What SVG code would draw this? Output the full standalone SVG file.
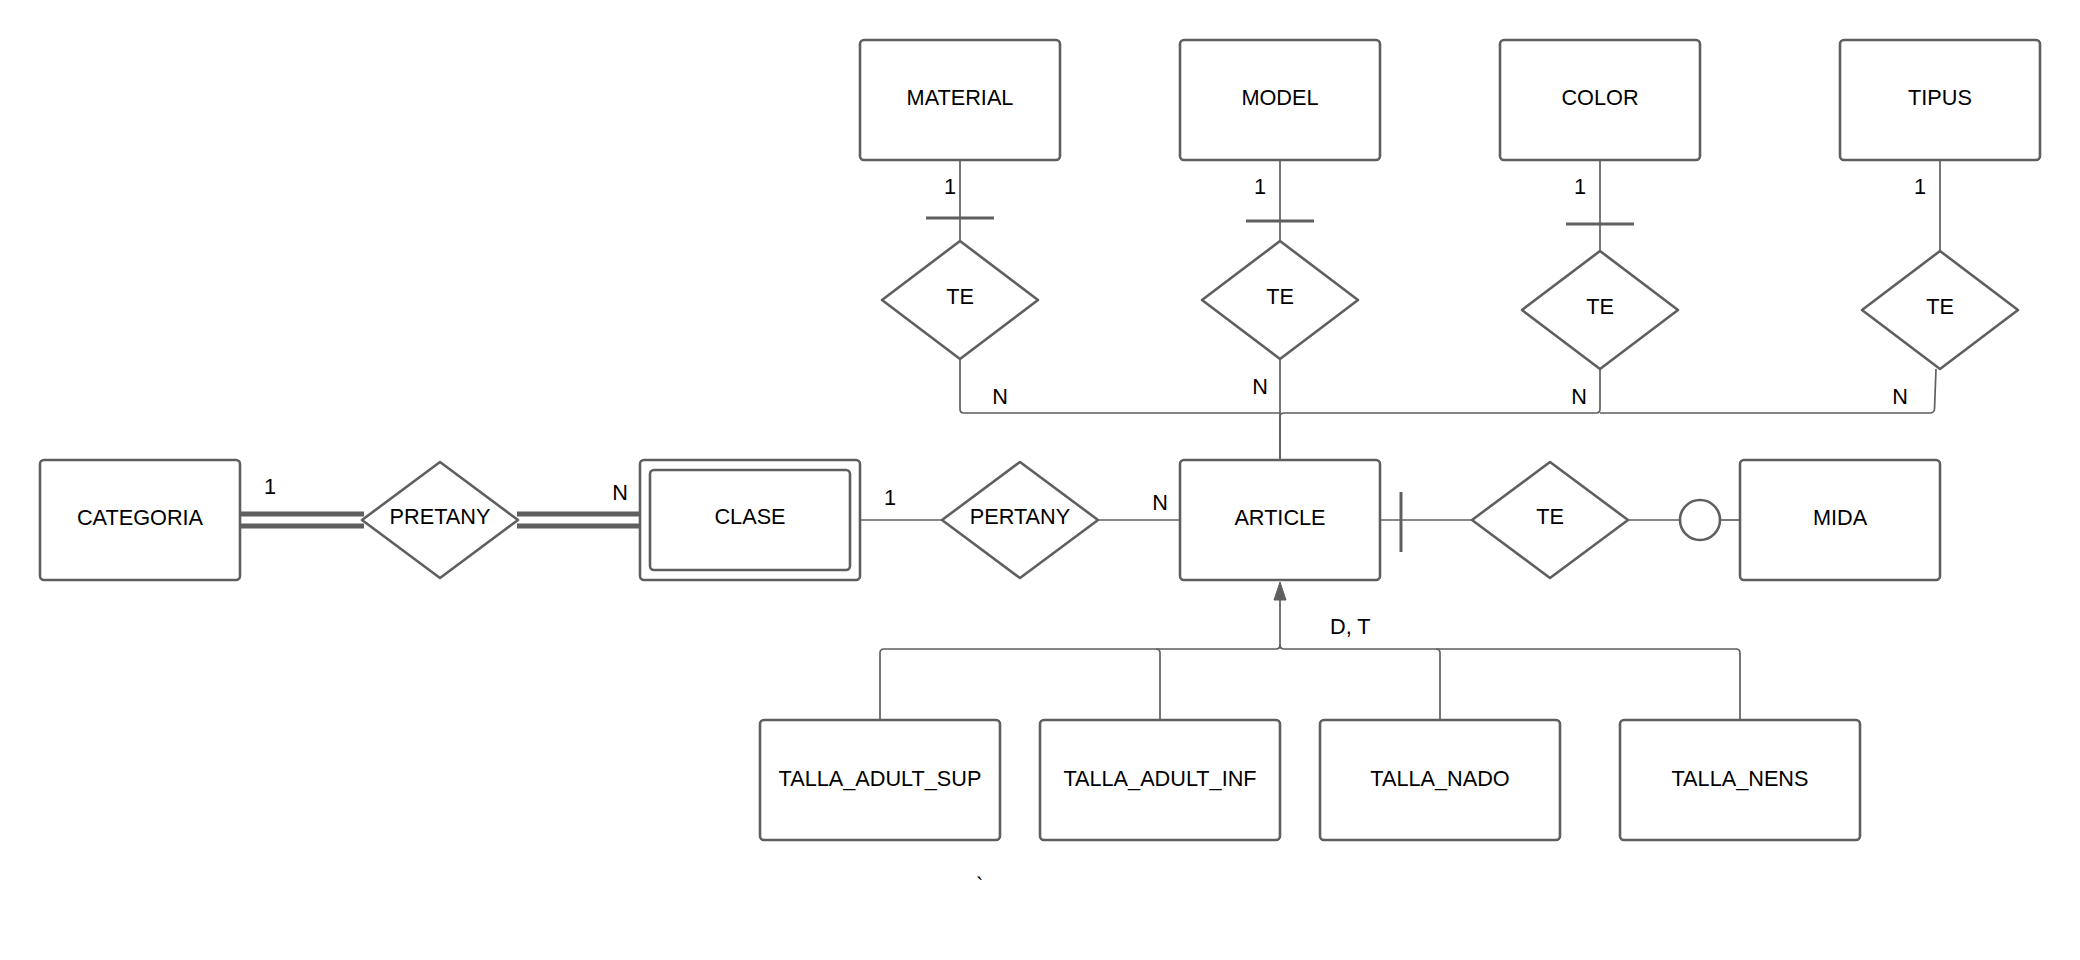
<svg xmlns="http://www.w3.org/2000/svg" width="2080" height="960" viewBox="0 0 2080 960">
<style>
.ent{fill:#fff;stroke:#5f5f5f;stroke-width:2.6}
.rel{fill:#fff;stroke:#5f5f5f;stroke-width:2.6;stroke-linejoin:round}
.ln{fill:none;stroke:#5f5f5f;stroke-width:1.7}
.bar{fill:none;stroke:#5f5f5f;stroke-width:3}
.dbl{fill:none;stroke:#5f5f5f;stroke-width:5}
text{font-family:"Liberation Sans",Arial,sans-serif;font-size:21.7px;fill:#000;text-anchor:middle}
</style>
<rect width="2080" height="960" fill="#fff"/>
<g id="connectors">
  <line class="ln" x1="960" y1="160" x2="960" y2="241"/>
  <line class="bar" x1="926" y1="218" x2="994" y2="218"/>
  <line class="ln" x1="1280" y1="160" x2="1280" y2="241"/>
  <line class="bar" x1="1246" y1="221" x2="1314" y2="221"/>
  <line class="ln" x1="1600" y1="160" x2="1600" y2="251"/>
  <line class="bar" x1="1566" y1="224" x2="1634" y2="224"/>
  <line class="ln" x1="1940" y1="160" x2="1940" y2="251"/>
  <path class="ln" d="M960 359 V409 Q960 413 964 413 H1280"/>
  <path class="ln" d="M1280 359 V460"/>
  <path class="ln" d="M1600 369 V409 Q1600 413 1596 413 H1284 Q1280 413 1280 417 V460"/>
  <path class="ln" d="M1936 369 L1934.5 409 Q1934 413 1930 413 H1600"/>
  <line class="dbl" x1="240" y1="514" x2="364" y2="514"/>
  <line class="dbl" x1="240" y1="526" x2="364" y2="526"/>
  <line class="dbl" x1="517" y1="514" x2="650" y2="514"/>
  <line class="dbl" x1="517" y1="526" x2="650" y2="526"/>
  <line class="ln" x1="850" y1="520" x2="942" y2="520"/>
  <line class="ln" x1="1098" y1="520" x2="1180" y2="520"/>
  <line class="ln" x1="1380" y1="520" x2="1472" y2="520"/>
  <line class="bar" x1="1401" y1="492" x2="1401" y2="552"/>
  <line class="ln" x1="1628" y1="520" x2="1680" y2="520"/>
  <circle cx="1700" cy="520" r="20" fill="#fff" stroke="#5f5f5f" stroke-width="2.6"/>
  <line class="ln" x1="1720" y1="520" x2="1740" y2="520"/>
  <path class="ln" d="M1280 598 V645 Q1280 649 1276 649 H884 Q880 649 880 653 V720"/>
  <path class="ln" d="M1280 645 Q1280 649 1284 649 H1736 Q1740 649 1740 653 V720"/>
  <path class="ln" d="M1156 649 Q1160 649 1160 653 V720"/>
  <path class="ln" d="M1436 649 Q1440 649 1440 653 V720"/>
  <polygon points="1280,582 1274,600 1286,600" fill="#5f5f5f" stroke="#5f5f5f" stroke-width="1" stroke-linejoin="round"/>
</g>
<g id="material"><rect class="ent" x="860" y="40" width="200" height="120" rx="4"/><text x="960" y="105">MATERIAL</text></g>
<g id="model"><rect class="ent" x="1180" y="40" width="200" height="120" rx="4"/><text x="1280" y="105">MODEL</text></g>
<g id="color"><rect class="ent" x="1500" y="40" width="200" height="120" rx="4"/><text x="1600" y="105">COLOR</text></g>
<g id="tipus"><rect class="ent" x="1840" y="40" width="200" height="120" rx="4"/><text x="1940" y="105">TIPUS</text></g>
<g id="te_material"><polygon class="rel" points="960,241 1038,300 960,359 882,300"/><text x="960" y="304">TE</text></g>
<g id="te_model"><polygon class="rel" points="1280,241 1358,300 1280,359 1202,300"/><text x="1280" y="304">TE</text></g>
<g id="te_color"><polygon class="rel" points="1600,251 1678,310 1600,369 1522,310"/><text x="1600" y="314">TE</text></g>
<g id="te_tipus"><polygon class="rel" points="1940,251 2018,310 1940,369 1862,310"/><text x="1940" y="314">TE</text></g>
<g id="categoria"><rect class="ent" x="40" y="460" width="200" height="120" rx="4"/><text x="140" y="525">CATEGORIA</text></g>
<g id="pretany"><polygon class="rel" points="440,462 518,520 440,578 362,520"/><text x="440" y="524">PRETANY</text></g>
<g id="clase"><rect class="ent" x="640" y="460" width="220" height="120" rx="4"/><rect class="ent" x="650" y="470" width="200" height="100" rx="4"/><text x="750" y="524">CLASE</text></g>
<g id="pertany"><polygon class="rel" points="1020,462 1098,520 1020,578 942,520"/><text x="1020" y="524">PERTANY</text></g>
<g id="article"><rect class="ent" x="1180" y="460" width="200" height="120" rx="4"/><text x="1280" y="525">ARTICLE</text></g>
<g id="te_mida"><polygon class="rel" points="1550,462 1628,520 1550,578 1472,520"/><text x="1550" y="524">TE</text></g>
<g id="mida"><rect class="ent" x="1740" y="460" width="200" height="120" rx="4"/><text x="1840" y="525">MIDA</text></g>
<g id="talla_adult_sup"><rect class="ent" x="760" y="720" width="240" height="120" rx="4"/><text x="880" y="786">TALLA_ADULT_SUP</text></g>
<g id="talla_adult_inf"><rect class="ent" x="1040" y="720" width="240" height="120" rx="4"/><text x="1160" y="786">TALLA_ADULT_INF</text></g>
<g id="talla_nado"><rect class="ent" x="1320" y="720" width="240" height="120" rx="4"/><text x="1440" y="786">TALLA_NADO</text></g>
<g id="talla_nens"><rect class="ent" x="1620" y="720" width="240" height="120" rx="4"/><text x="1740" y="786">TALLA_NENS</text></g>
<g id="labels">
  <text x="950" y="194">1</text>
  <text x="1260" y="194">1</text>
  <text x="1580" y="194">1</text>
  <text x="1920" y="194">1</text>
  <text x="1000" y="404">N</text>
  <text x="1260" y="394">N</text>
  <text x="1579" y="404">N</text>
  <text x="1900" y="404">N</text>
  <text x="270" y="494">1</text>
  <text x="620" y="500">N</text>
  <text x="890" y="505">1</text>
  <text x="1160" y="510">N</text>
  <text x="1330" y="634" style="text-anchor:start">D, T</text>
  <text x="976" y="893" style="text-anchor:start">`</text>
</g>
</svg>
